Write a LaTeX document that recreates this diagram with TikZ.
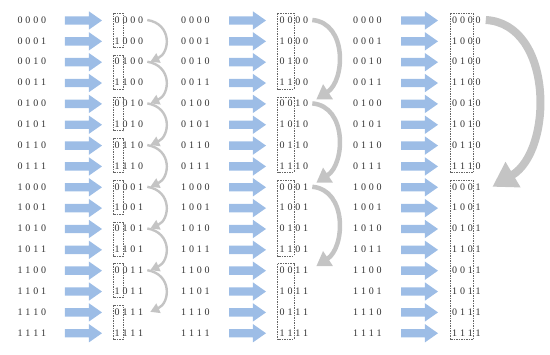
\documentclass[tikz,border=0pt]{standalone}
\usepackage{fontspec}
\setmainfont{Liberation Serif}
\usetikzlibrary{shapes.arrows,arrows.meta}
\definecolor{arrowblue}{HTML}{9DBDE6}
\definecolor{curvegray}{HTML}{C4C4C4}
\newcommand\bits[4]{#1\kern2.8pt#2\kern2.8pt#3\kern2.8pt#4}
\tikzset{
  digits/.style={anchor=west,inner sep=0pt,font=\fontsize{10}{12}\selectfont,text=black!80},
  blockarrow/.style={single arrow,fill=arrowblue,draw=none,inner xsep=0pt,inner ysep=4pt,
    minimum width=0pt,minimum height=37pt,single arrow head extend=5pt,single arrow tip angle=70},
  groupbox/.style={draw=black!60,line width=0.5pt,dash pattern=on 1.5pt off 1pt},
  smallhop/.style={draw=curvegray,line width=2.4pt,-{Triangle[width=10pt,length=9pt]}},
  midhop/.style={draw=curvegray,line width=4.5pt,-{Triangle[width=17pt,length=14pt]}},
  bighop/.style={draw=curvegray,line width=8pt,-{Triangle[width=28pt,length=24pt]}}
}
\begin{document}
\begin{tikzpicture}[x=1pt,y=-1pt]
\useasboundingbox (0,0) rectangle (550,355);
% three passes, sixteen rows each
\foreach \a/\b [count=\i from 0] in {0000/0000,0001/1000,0010/0100,0011/1100,0100/0010,0101/1010,0110/0110,0111/1110,1000/0001,1001/1001,1010/0101,1011/1101,1100/0011,1101/1011,1110/0111,1111/1111}{
  \foreach \c/\xl/\xa/\xr in {1/17.5/62/114.5,2/181/226/279.5,3/353/398/452}{
    \node[digits] (l\c-\i) at (\xl,20+20.85*\i) {\expandafter\bits\a};
    \node[blockarrow] (a\c-\i) at (\xa+18.5,20.5+20.85*\i) {};
    \node[digits] (r\c-\i) at (\xr,20+20.85*\i) {\expandafter\bits\b};
  }
}
% dashed groups
\foreach \k in {0,...,7}
  \draw[groupbox] (113,13.5+41.7*\k) rectangle (123,47.35+41.7*\k);
\foreach \k in {0,...,3}
  \draw[groupbox] (277.5,13.5+83.4*\k) rectangle (294,89.05+83.4*\k);
\foreach \k in {0,1}
  \draw[groupbox] (450,13.5+166.8*\k) rectangle (473.5,172.45+166.8*\k);
% curved hops
\foreach \i [evaluate=\i as \j using int(\i+2)] in {0,2,...,12}
  \draw[smallhop] ([xshift=4pt]r1-\i.east) .. controls +(25,4) and +(20,-9) .. ([xshift=7pt]r1-\j.east);
\foreach \i [evaluate=\i as \j using int(\i+4)] in {0,4,8}
  \draw[midhop] ([xshift=4pt]r2-\i.east) .. controls +(35,3) and +(29,-19) .. ([xshift=8pt,yshift=4pt]r2-\j.east);
\draw[bighop] ([xshift=5pt]r3-0.east) .. controls +(68,4) and +(61,-36) .. ([xshift=11.6pt]r3-8.east);
\end{tikzpicture}
\end{document}
